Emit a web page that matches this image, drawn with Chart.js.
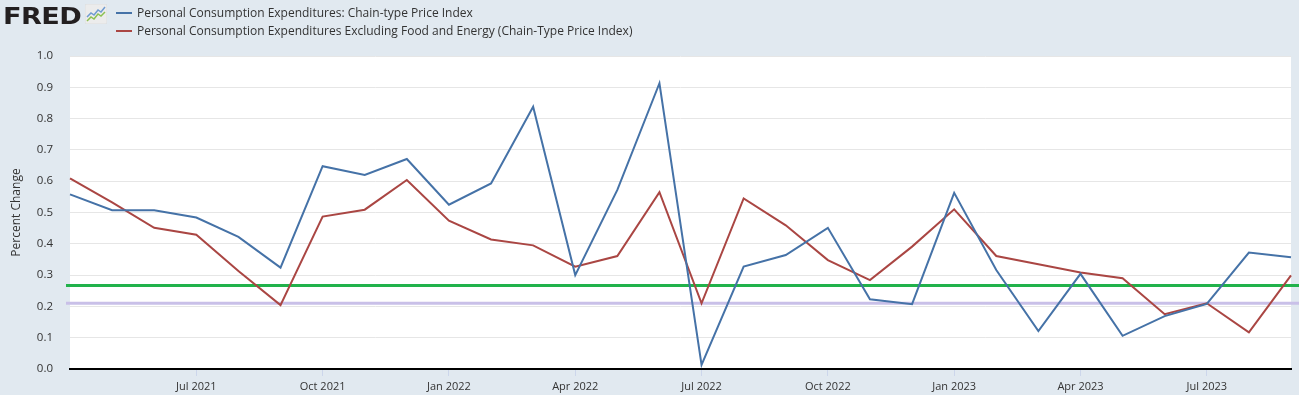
<!DOCTYPE html>
<html>
<head>
<meta charset="utf-8">
<script src="https://cdn.jsdelivr.net/npm/chart.js@4.4.1/dist/chart.umd.min.js"></script>
<style>
  html, body { margin: 0; padding: 0; background: #e1e9f0; }
  #wrap { position: relative; width: 1299px; height: 395px; overflow: hidden; font-family: "Open Sans", sans-serif; }
  #c { position: absolute; left: 0; top: 0; }
  #logo { position: absolute; left: 3px; top: 2px; font-family: "DejaVu Sans", sans-serif; font-weight: bold; font-size: 23px; letter-spacing: -0.5px; color: #231f20; line-height: 29px; transform: scaleX(1.18); transform-origin: left top; }
  #icon { position: absolute; left: 85px; top: 4px; }
  .leg { position: absolute; left: 116px; font-size: 12px; color: #333; white-space: nowrap; line-height: 16px; }
  .leg i { display: inline-block; width: 16px; height: 2px; vertical-align: middle; margin-right: 5px; position: relative; top: -1px; }
</style>
</head>
<body>
<div id="wrap">
  <canvas id="c" width="1299" height="395"></canvas>
  <div id="logo">FRED</div>
  <svg id="icon" width="22" height="20" viewBox="0 0 22 20">
    <rect x="0" y="0" width="22" height="20" rx="2" fill="#ececec" stroke="#d6d6d6" stroke-width="0.6"/>
    <polyline points="2,13 6,9 9,11 13,6 16,8 20,3" fill="none" stroke="#6f9bd1" stroke-width="1.5"/>
    <polyline points="2,17 6,13 9,15 13,10 16,12 20,8" fill="none" stroke="#8cc152" stroke-width="1.5"/>
  </svg>
  <div class="leg" id="leg1" style="top:5px"><i style="background:#4572a7"></i>Personal Consumption Expenditures: Chain-type Price Index</div>
  <div class="leg" id="leg2" style="top:23px"><i style="background:#aa4643"></i>Personal Consumption Expenditures Excluding Food and Energy (Chain-Type Price Index)</div>
</div>
<script>
const categories = ['Apr 2021','May 2021','Jun 2021','Jul 2021','Aug 2021','Sep 2021','Oct 2021','Nov 2021','Dec 2021',
  'Jan 2022','Feb 2022','Mar 2022','Apr 2022','May 2022','Jun 2022','Jul 2022','Aug 2022','Sep 2022','Oct 2022','Nov 2022','Dec 2022',
  'Jan 2023','Feb 2023','Mar 2023','Apr 2023','May 2023','Jun 2023','Jul 2023','Aug 2023','Sep 2023'];
const pceValues = [0.558,0.507,0.507,0.484,0.422,0.324,0.648,0.620,0.671,
  0.525,0.593,0.838,0.300,0.572,0.913,0.013,0.327,0.364,0.451,0.223,0.207,
  0.563,0.316,0.121,0.304,0.106,0.169,0.208,0.372,0.357];
const coreValues = [0.609,0.532,0.451,0.429,0.313,0.204,0.487,0.509,0.604,
  0.474,0.414,0.395,0.327,0.361,0.565,0.210,0.545,0.459,0.348,0.284,0.391,
  0.510,0.361,0.335,0.308,0.290,0.175,0.210,0.117,0.299];
const yTicks = [0.0,0.1,0.2,0.3,0.4,0.5,0.6,0.7,0.8,0.9,1.0];
const xTickLabels = ['Jul 2021','Oct 2021','Jan 2022','Apr 2022','Jul 2022','Oct 2022','Jan 2023','Apr 2023','Jul 2023'];
const refLines = [
  { value: 0.267, color: '#21b24b', width: 3 },
  { value: 0.210, color: '#c9c0e8', width: 3 }
];
const seriesNames = ['Personal Consumption Expenditures: Chain-type Price Index',
  'Personal Consumption Expenditures Excluding Food and Energy (Chain-Type Price Index)'];

const bgPlugin = {
  id: 'bg',
  beforeDraw(chart) {
    const { ctx, chartArea: a } = chart;
    ctx.save();
    ctx.fillStyle = '#e1e9f0';
    ctx.fillRect(0, 0, chart.width, chart.height);
    ctx.fillStyle = '#ffffff';
    ctx.fillRect(a.left, a.top, a.right - a.left, a.bottom - a.top);
    ctx.restore();
  }
};
const refPlugin = {
  id: 'refLines',
  beforeDatasetsDraw(chart) {
    const { ctx, chartArea: a, scales } = chart;
    ctx.save();
    refLines.forEach(l => {
      const y = scales.y.getPixelForValue(l.value);
      ctx.strokeStyle = l.color;
      ctx.lineWidth = l.width;
      ctx.beginPath();
      ctx.moveTo(a.left - 4, y);
      ctx.lineTo(chart.width, y);
      ctx.stroke();
    });
    ctx.restore();
  }
};

new Chart(document.getElementById('c'), {
  type: 'line',
  data: {
    labels: categories,
    datasets: [
      { label: seriesNames[0], data: pceValues, borderColor: '#4572a7', borderWidth: 2, pointRadius: 0, tension: 0, fill: false },
      { label: seriesNames[1], data: coreValues, borderColor: '#aa4643', borderWidth: 2, pointRadius: 0, tension: 0, fill: false }
    ]
  },
  options: {
    responsive: false,
    animation: false,
    devicePixelRatio: 1,
    layout: { padding: { top: 56, right: 8, left: 0, bottom: 0 } },
    plugins: { legend: { display: false }, tooltip: { enabled: false } },
    scales: {
      x: {
        type: 'category',
        offset: false,
        afterFit(s) { s.height = 26; },
        grid: {
          drawOnChartArea: false,
          drawTicks: true,
          tickLength: 7,
          color: '#ccd6eb',
          lineWidth: 1
        },
        border: { display: true, color: '#000000', width: 2 },
        ticks: {
          autoSkip: false,
          maxRotation: 0,
          padding: 4,
          color: '#333333',
          font: { family: 'Open Sans', size: 11 },
          callback(value) {
            const lab = categories[value];
            return xTickLabels.includes(lab) ? lab : null;
          }
        }
      },
      y: {
        min: 0,
        max: 1,
        afterFit(s) { s.width = 70; },
        afterBuildTicks(s) { s.ticks = yTicks.map(v => ({ value: v })); },
        grid: { color: '#e6e6e6', lineWidth: 1, drawTicks: false },
        border: { display: false },
        ticks: {
          padding: 17,
          color: '#333333',
          font: { family: 'Open Sans', size: 11.5 },
          callback(v) { return Number(v).toFixed(1); }
        },
        title: {
          display: true,
          text: 'Percent Change',
          color: '#333333',
          font: { family: 'Open Sans', size: 12 },
          padding: { top: 9, bottom: 0 }
        }
      }
    }
  },
  plugins: [bgPlugin, refPlugin]
});
</script>
</body>
</html>
